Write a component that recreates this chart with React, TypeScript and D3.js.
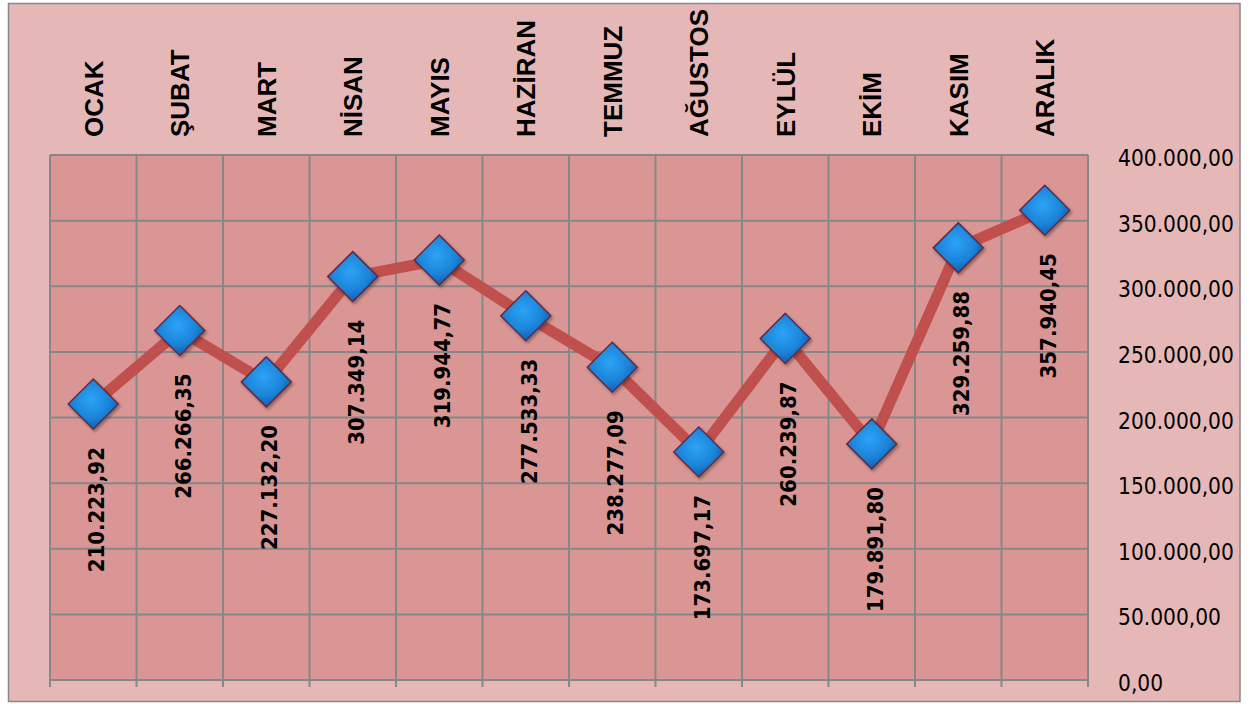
import React from "react";
import * as d3 from "d3";

const months = ["OCAK", "ŞUBAT", "MART", "NİSAN", "MAYIS", "HAZİRAN", "TEMMUZ", "AĞUSTOS", "EYLÜL", "EKİM", "KASIM", "ARALIK"];
const values = [210223.92, 266266.35, 227132.2, 307349.14, 319944.77, 277533.33, 238277.09, 173697.17, 260239.87, 179891.8, 329259.88, 357940.45];
const yTicks = [0, 50000, 100000, 150000, 200000, 250000, 300000, 350000, 400000];

const W = 1252;
const H = 704;
const plot = { left: 50, right: 1088, top: 155, bottom: 680 };

const trLocale = d3.formatLocale({ decimal: ",", thousands: ".", grouping: [3], currency: ["", ""] });
const fmt = trLocale.format(",.2f");

export default function App() {
  const x = d3.scaleBand<string>().domain(months).range([plot.left, plot.right]).padding(0);
  const y = d3.scaleLinear().domain([0, 400000]).range([plot.bottom, plot.top]);
  const cx = (m: string) => (x(m) as number) + x.bandwidth() / 2;

  const line = d3
    .line<number>()
    .x((_, i) => cx(months[i]))
    .y((v) => y(v));

  const boundaries = months.map((m) => x(m) as number).concat([plot.right]);
  const r = 25;

  return (
    <svg width={W} height={H} style={{ position: "absolute", left: 0, top: 0 }}>
      <defs>
        <radialGradient id="dg" cx="45%" cy="40%" r="65%">
          <stop offset="0%" stopColor="#2DA3F5" />
          <stop offset="55%" stopColor="#1C86DB" />
          <stop offset="100%" stopColor="#1257A8" />
        </radialGradient>
        <filter id="sh" x="-30%" y="-30%" width="160%" height="160%">
          <feDropShadow dx="1.5" dy="2" stdDeviation="1.5" floodColor="#000" floodOpacity="0.35" />
        </filter>
      </defs>
      <rect x={8.5} y={3.5} width={1231.5} height={698} fill="#E5B8B7" stroke="#888" strokeWidth={1.5} />
      <rect x={plot.left} y={plot.top} width={plot.right - plot.left} height={plot.bottom - plot.top} fill="#D99694" />
      {yTicks.map((t) => (
        <line key={"h" + t} x1={plot.left} x2={plot.right} y1={y(t)} y2={y(t)} stroke="#878787" strokeWidth={2} />
      ))}
      {boundaries.map((b, i) => (
        <line key={"v" + i} x1={b} x2={b} y1={plot.top} y2={plot.bottom + 7} stroke="#878787" strokeWidth={2} />
      ))}
      {yTicks.map((t) => (
        <text
          key={"yl" + t}
          x={1118}
          y={y(t) + 3}
          dominantBaseline="central"
          fontFamily="DejaVu Sans Condensed, DejaVu Sans"
          fontStretch="condensed"
          fontSize={22.5}
          fill="#000"
        >
          {fmt(t)}
        </text>
      ))}
      {months.map((m) => (
        <text
          key={"c" + m}
          transform={`translate(${cx(m)},137) rotate(-90)`}
          dy="0.36em"
          textAnchor="start"
          fontFamily="Liberation Sans, Arial"
          fontWeight="bold"
          fontSize={26}
          fill="#000"
        >
          {m}
        </text>
      ))}
      <path d={line(values) || ""} fill="none" stroke="#C0504D" strokeWidth={11} strokeLinejoin="round" />
      {values.map((v, i) => {
        const px = cx(months[i]);
        const py = y(v);
        return (
          <path
            key={"d" + i}
            d={`M${px},${py - r}L${px + r},${py}L${px},${py + r}L${px - r},${py}Z`}
            fill="url(#dg)"
            stroke="#5B2C4C"
            strokeWidth={1.5}
            filter="url(#sh)"
          />
        );
      })}
      {values.map((v, i) => (
        <text
          key={"l" + i}
          transform={`translate(${cx(months[i]) + 3},${y(v) + 43}) rotate(-90)`}
          dy="0.36em"
          textAnchor="end"
          fontFamily="DejaVu Sans Condensed, DejaVu Sans"
          fontStretch="condensed"
          fontWeight="bold"
          fontSize={22}
          fill="#000"
        >
          {fmt(v)}
        </text>
      ))}
    </svg>
  );
}
